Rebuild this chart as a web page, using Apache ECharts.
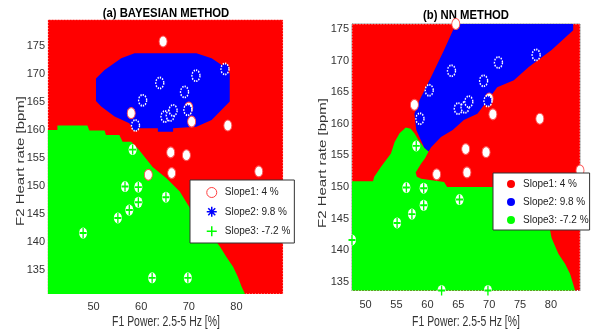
<!DOCTYPE html>
<html><head><meta charset="utf-8">
<script src="https://cdn.jsdelivr.net/npm/echarts@6/dist/echarts.min.js"></script>
<style>html,body{margin:0;padding:0;background:#fff}#c{width:593px;height:331px}</style>
</head><body><div id="c"></div>
<script>
// ---- data ----
const seriesNames = ['Slope1: 4 %', 'Slope2: 9.8 %', 'Slope3: -7.2 %'];
const slope1Points = [[64.6,175.8],[57.9,163.0],[70.6,161.5],[78.2,160.8],[66.2,156.0],[69.5,155.5],[66.4,152.3],[61.5,152.0],[84.7,152.6],[70.0,164.0]];
const slope2Points = [[77.6,170.9],[71.5,169.7],[63.9,168.4],[69.1,166.8],[60.3,165.3],[65.0,162.4],[66.1,162.6],[66.7,163.5],[69.8,163.6],[58.8,160.8]];
const slope3Points = [[47.8,141.6],[58.2,156.5],[56.6,149.9],[59.4,149.8],[65.2,148.0],[59.4,147.1],[57.5,145.7],[55.1,144.3],[62.3,133.6],[69.8,133.6]];

// decision regions (a) Bayesian
const bayesRed = [[40.4,130.7],[89.8,130.7],[89.8,179.7],[40.4,179.7]];
const bayesBlue = [[58.6,173.7],[71.6,173.7],[74.8,172.8],[76.9,171.6],[78.6,170.1],[78.6,165.1],[76.9,163.6],[74.8,161.8],[71.6,160.6],[66.7,160.3],[66.7,159.7],[63.5,159.7],[63.5,160.3],[58.2,160.3],[57.5,161.2],[54.4,162.4],[51.6,164.2],[50.5,165.2],[50.5,169.2],[52.3,170.7],[55.8,172.8]];
const bayesGreen = [[40.4,130.7],[40.4,160.0],[42.4,160.0],[42.4,160.8],[48.7,160.8],[49.1,159.9],[52.3,159.9],[52.6,159.1],[55.4,159.1],[56.1,157.9],[57.9,157.9],[59.6,156.4],[62.4,153.4],[65.3,151.4],[68.1,149.0],[70.2,146.1],[73.5,142.7],[76.6,139.1],[77.9,137.3],[79.3,135.6],[80.3,133.8],[81.1,132.0],[81.8,130.7]];

// decision regions (b) NN
const nnRed = [[47.8,133.6],[84.7,133.6],[84.7,175.8],[47.8,175.8]];
const nnBlue = [[64.6,175.8],[83.6,175.8],[83.6,174.8],[80.1,171.7],[76.4,169.0],[74.0,166.9],[71.3,165.8],[70.2,164.3],[68.1,161.6],[65.9,160.6],[64.1,159.0],[62.2,157.9],[60.6,156.3],[60.2,155.6],[59.5,156.2],[58.2,159.0],[57.9,161.6],[58.7,163.7],[60.6,167.4],[62.7,171.7]];
const nnGreen = [[47.8,133.6],[47.8,150.9],[51.2,150.9],[51.4,151.6],[52.5,153.2],[54.1,155.3],[54.7,157.1],[55.5,158.5],[56.5,159.4],[57.3,159.2],[57.9,158.5],[58.5,157.5],[59.5,156.2],[60.2,155.6],[59.6,154.5],[59.0,153.7],[58.1,152.3],[58.3,151.6],[59.0,151.3],[62.7,150.8],[63.2,150.0],[78.5,150.0],[79.3,146.0],[80.1,141.9],[81.2,139.4],[82.3,137.8],[83.1,136.2],[83.6,134.6],[83.9,133.6]];

const xTicksA = [50,60,70,80];
const yTicksA = [135,140,145,150,155,160,165,170,175];
const xTicksB = [50,55,60,65,70,75,80];
const yTicksB = [135,140,145,150,155,160,165,170,175];
const xRangeA = [40,90], yRangeA = [130,180];
const xRangeB = [47.8,84.7], yRangeB = [133.6,175.8];

// ---- styling ----
const RED = '#ff0000', BLUE = '#0000ff', GREEN = '#00ff00';
const FONT = "'Liberation Sans',Arial,sans-serif";
const ASTERISK = 'path://M5,0L5,10M0,5L10,5M1.5,1.5L8.5,8.5M8.5,1.5L1.5,8.5';
const PLUS = 'path://M5,0L5,10M0,5L10,5';

function tickFmt(list){ return v => list.some(t => Math.abs(t - v) < 1e-6) ? String(Math.round(v)) : ''; }

function region(poly, color, g, border){
  return {
    type:'custom', xAxisIndex:g, yAxisIndex:g, silent:true, z:1,
    data: poly, encode:{x:0,y:1},
    renderItem:(params, api) => params.dataIndex !== 0 ? null : {
      type:'polygon',
      shape:{points: poly.map(p => api.coord(p))},
      style: border ? {fill:color, stroke:'#ffffff', lineWidth:1, lineDash:[1,2]} : {fill:color}
    }
  };
}
function pointSeries(g){
  return [
    {type:'scatter', name:seriesNames[0], xAxisIndex:g, yAxisIndex:g, z:3, clip:false, silent:true,
     data:slope1Points, symbol:'circle', symbolSize:[8,11],
     itemStyle:{color:'#ffffff', borderColor:'#ff5050', borderWidth:1, opacity:1}},
    {type:'scatter', name:seriesNames[1], xAxisIndex:g, yAxisIndex:g, z:4, clip:false, silent:true,
     data:slope2Points, symbol:'circle', symbolSize:[8,11],
     itemStyle:{color:BLUE, borderColor:'#ffffff', borderWidth:1.6, borderType:[1.5,1.2], opacity:1}},
    {type:'scatter', name:seriesNames[2], xAxisIndex:g, yAxisIndex:g, z:3, clip:false, silent:true,
     data:slope3Points, symbol:'circle', symbolSize:[8,11],
     itemStyle:{color:'#ffffff', borderWidth:0, opacity:1}},
    {type:'scatter', name:seriesNames[2], xAxisIndex:g, yAxisIndex:g, z:5, clip:false, silent:true,
     data:slope3Points, symbol:PLUS, symbolSize:[7,10],
     itemStyle:{color:'transparent', borderColor:GREEN, borderWidth:1.6, opacity:1}}
  ];
}

const axisLabelBase = {fontFamily:FONT, fontSize:11, color:'#333'};

const option = {
  animation:false,
  backgroundColor:'#ffffff',
  grid:[
    {left:46, top:18, width:238, height:280, show:false},
    {left:352, top:24, width:228, height:266.5, show:true, borderColor:'#808080', borderWidth:1, backgroundColor:'transparent'}
  ],
  xAxis:[
    {type:'value', gridIndex:0, min:xRangeA[0], max:xRangeA[1], interval:10,
     axisLine:{show:false}, axisTick:{show:false}, splitLine:{show:false},
     axisLabel:Object.assign({margin:3, formatter:tickFmt(xTicksA)}, axisLabelBase)},
    {type:'value', gridIndex:1, min:xRangeB[0], max:xRangeB[1], splitNumber:7,
     axisLine:{show:true, lineStyle:{color:'#808080'}}, axisTick:{show:true, inside:true, length:3, lineStyle:{color:'#808080'}}, splitLine:{show:false},
     axisLabel:Object.assign({margin:9, showMinLabel:false, showMaxLabel:false, formatter:tickFmt(xTicksB)}, axisLabelBase)}
  ],
  yAxis:[
    {type:'value', gridIndex:0, min:yRangeA[0], max:yRangeA[1], interval:5,
     axisLine:{show:false}, axisTick:{show:false}, splitLine:{show:false},
     axisLabel:Object.assign({margin:1, formatter:tickFmt(yTicksA)}, axisLabelBase)},
    {type:'value', gridIndex:1, min:yRangeB[0], max:yRangeB[1], splitNumber:8,
     axisLine:{show:true, lineStyle:{color:'#808080'}}, axisTick:{show:true, inside:true, length:3, lineStyle:{color:'#808080'}}, splitLine:{show:false},
     axisLabel:Object.assign({margin:3, showMinLabel:false, showMaxLabel:false, formatter:tickFmt(yTicksB)}, axisLabelBase)}
  ],
  legend:[
    {orient:'vertical', left:190, top:180, padding:[7,4,6,16], itemGap:8, itemWidth:10, itemHeight:12,
     backgroundColor:'#ffffff', borderColor:'#333333', borderWidth:1, borderRadius:0, selectedMode:false,
     textStyle:{fontFamily:FONT, fontSize:10, color:'#222', padding:[0,0,0,3]},
     data:[
       {name:seriesNames[0], icon:'circle', itemStyle:{color:'#ffffff', borderColor:'#ff4040', borderWidth:1}},
       {name:seriesNames[1], icon:ASTERISK, itemStyle:{color:'transparent', borderColor:BLUE, borderWidth:1.5}},
       {name:seriesNames[2], icon:PLUS, itemStyle:{color:'transparent', borderColor:GREEN, borderWidth:1.5}}
     ]},
    {orient:'vertical', left:493, top:173, padding:[6,1,5,14], itemGap:8, itemWidth:8, itemHeight:10,
     backgroundColor:'#ffffff', borderColor:'#333333', borderWidth:1, borderRadius:0, selectedMode:false,
     textStyle:{fontFamily:FONT, fontSize:10, color:'#222', padding:[0,0,0,3]},
     data:[
       {name:seriesNames[0], icon:'circle', itemStyle:{color:RED, borderWidth:0}},
       {name:seriesNames[1], icon:'circle', itemStyle:{color:BLUE, borderWidth:0}},
       {name:seriesNames[2], icon:'circle', itemStyle:{color:GREEN, borderWidth:0}}
     ]}
  ],
  graphic:[
    {type:'text', x:166, y:13, scaleX:0.87, style:{text:'(a) BAYESIAN METHOD', font:"bold 13px "+FONT, fill:'#000', align:'center', verticalAlign:'middle'}},
    {type:'text', x:466, y:15, scaleX:0.87, style:{text:'(b) NN METHOD', font:"bold 13px "+FONT, fill:'#000', align:'center', verticalAlign:'middle'}},
    {type:'text', x:166, y:322, scaleX:0.72, style:{text:'F1 Power: 2.5-5 Hz [%]', font:"14.5px "+FONT, fill:'#333', align:'center', verticalAlign:'middle'}},
    {type:'text', x:466, y:322, scaleX:0.72, style:{text:'F1 Power: 2.5-5 Hz [%]', font:"14.5px "+FONT, fill:'#333', align:'center', verticalAlign:'middle'}},
    {type:'text', x:21, y:161, rotation:Math.PI/2, scaleY:0.75, style:{text:'F2 Heart rate [bpm]', font:"15px "+FONT, fill:'#333', align:'center', verticalAlign:'middle'}},
    {type:'text', x:323, y:163, rotation:Math.PI/2, scaleY:0.75, style:{text:'F2 Heart rate [bpm]', font:"15px "+FONT, fill:'#333', align:'center', verticalAlign:'middle'}}
  ],
  series:[].concat(
    [region(bayesRed, RED, 0, true), region(bayesGreen, GREEN, 0, false), region(bayesBlue, BLUE, 0, false)],
    pointSeries(0),
    [region(nnRed, RED, 1, true), region(nnGreen, GREEN, 1, false), region(nnBlue, BLUE, 1, false)],
    pointSeries(1)
  )
};
const chart = echarts.init(document.getElementById('c'), null, {renderer:'canvas'});
chart.setOption(option);
</script></body></html>
